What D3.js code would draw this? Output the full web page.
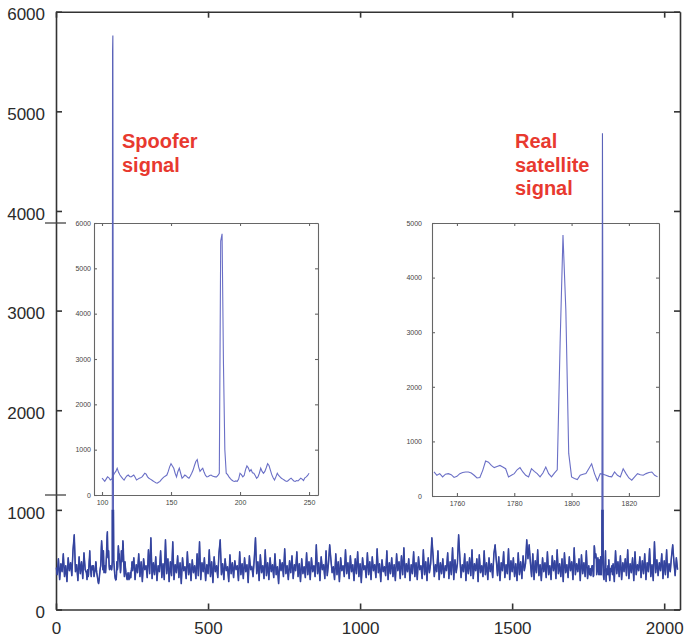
<!DOCTYPE html>
<html lang="en">
<head>
<meta charset="UTF-8">
<title>Spoofer vs real satellite signal</title>
<script src="https://cdn.jsdelivr.net/npm/d3@7"></script>
<style>
  body { margin: 0; background: #fff; }
  text { font-family: "Liberation Sans", Arial, sans-serif; }
  .main-axis text { font-size: 17px; fill: #2b2b2b; }
  .main-axis path, .main-axis line { stroke: #333; stroke-width: 1.6; }
  .inset-axis text { font-size: 7px; fill: #444; }
  .inset-axis path, .inset-axis line { stroke: #666; stroke-width: 1.1; }
  .note { font-size: 20px; font-weight: bold; fill: #e8392f; }
</style>
</head>
<body>
<script>
// correlation output, main plot sampled every 4 bins (noise floor)
const mainStep = 4;
const mainNoise = [
  420,350,510,300,460,380,560,330,440,280,520,390,470,340,600,750,
  380,450,290,530,360,480,310,570,400,330,460,300,520,370,440,310,
  490,350,420,280,540,390,700,330,460,300,510,380,450,320,560,340,
  470,290,430,360,520,310,710,380,440,300,490,350,580,320,460,390,
  520,300,450,370,560,330,480,280,510,400,440,320,600,360,720,310,
  470,350,530,290,440,380,590,320,460,300,700,360,510,280,480,340,
  680,300,450,370,540,320,470,260,520,390,430,310,580,350,460,290,
  500,370,440,310,560,340,680,300,470,380,520,290,450,360,600,330,
  480,270,530,380,440,320,570,700,350,460,300,510,390,430,280,550,
  360,470,320,490,400,440,290,580,350,460,310,520,380,450,270,540,
  400,430,330,510,720,360,480,290,550,370,440,310,600,340,470,300,
  520,380,450,320,560,350,430,260,500,390,470,330,610,360,440,300,
  490,370,540,310,450,390,580,330,460,280,510,360,430,320,570,350,
  480,300,520,380,440,330,650,360,470,290,530,400,450,310,590,340,
  460,650,500,370,430,300,560,350,480,280,520,390,440,330,600,360,
  470,310,540,380,450,290,510,360,580,330,460,270,520,400,440,320,
  570,350,480,300,530,390,450,320,610,370,460,280,500,380,430,340,
  590,300,470,360,520,330,450,290,560,390,480,310,540,350,620,320,
  460,380,510,290,450,360,580,330,470,300,530,400,440,310,600,350,
  480,290,520,370,460,720,540,330,450,380,590,300,470,360,510,320,
  440,390,570,310,480,350,620,300,500,370,460,750,530,320,450,380,
  560,290,480,360,520,340,600,310,460,390,510,280,550,370,440,330,
  590,350,470,300,520,380,460,320,560,650,490,340,530,290,470,390,
  580,320,450,360,610,300,490,380,520,330,460,290,570,350,480,310,
  540,390,460,700,510,650,470,330,560,300,490,370,600,340,450,290,
  520,380,470,320,580,350,440,300,540,390,490,310,600,360,460,330,
  510,280,570,370,450,320,530,390,480,300,620,350,460,380,510,290,
  550,360,470,330,590,310,480,370,520,290,460,400,560,340,680,320,
  500,380,450,300,570,350,490,320,530,390,460,280,590,360,480,330,
  540,300,470,380,510,340,600,310,460,370,520,290,580,350,450,390,
  530,320,490,360,560,300,470,380,610,330,450,290,680,370,500,340,
  470,390,560,310,490,350,600,320,460,380,530,650,480,340,520,400
];

// spoofer region, bins 100..250 (left inset)
const spoofStart = 100;
const spoofVals = [
  370,340,300,350,400,380,330,350,420,480,
  520,590,500,440,400,360,330,380,420,440,
  410,400,420,440,390,330,350,370,380,400,
  440,480,460,400,370,350,330,310,290,270,
  260,280,300,340,370,400,420,440,520,620,
  690,640,590,480,400,520,590,480,370,400,
  440,420,390,370,420,480,550,650,740,780,
  620,520,560,590,500,430,400,410,430,440,
  420,410,400,400,430,480,5600,5760,2900,1000,
  480,450,400,360,330,310,300,310,300,350,
  480,450,400,430,560,640,600,520,560,490,
  480,430,370,400,480,590,520,480,520,600,
  690,650,550,450,380,330,400,480,430,400,
  370,350,330,310,300,320,350,370,340,310,
  300,320,310,340,370,350,320,380,400,430,
  480
];

// real satellite region, bins 1752..1830 (right inset)
const realStart = 1752;
const realVals = [
  440,380,410,350,400,410,390,340,360,
  410,430,440,440,420,380,330,340,470,640,
  620,560,520,540,560,530,500,350,380,410,
  480,520,440,380,350,500,450,410,350,420,
  530,410,350,420,480,2800,4780,3400,780,350,
  320,300,380,400,410,500,590,410,280,410,
  400,380,360,350,440,380,350,500,410,330,
  290,350,410,390,380,410,430,440,380,350
];

const mainXTicks = [0, 500, 1000, 1500, 2000];
const mainYTicks = [0, 1000, 2000, 3000, 4000, 5000, 6000];
const spoofXTicks = [100, 150, 200, 250];
const spoofYTicks = [0, 1000, 2000, 3000, 4000, 5000, 6000];
const realXTicks = [1760, 1780, 1800, 1820];
const realYTicks = [0, 1000, 2000, 3000, 4000, 5000];
const spoofNote = ["Spoofer", "signal"];
const realNote = ["Real", "satellite", "signal"];

const W = 691, H = 640;
const fmt = d3.format("d");
const svg = d3.select("body").append("svg")
  .attr("width", W).attr("height", H)
  .style("background", "#fff");

const spoof = spoofVals.map((v, i) => ({x: spoofStart + i, y: v}));
const real = realVals.map((v, i) => ({x: realStart + i, y: v}));
const covers = (s, x) => x >= s[0].x && x <= s[s.length - 1].x;
const series = mainNoise.map((v, i) => ({x: i * mainStep, y: v}))
  .filter(d => !covers(spoof, d.x) && !covers(real, d.x))
  .concat(spoof, real)
  .sort((a, b) => a.x - b.x);

// main scales
const x = d3.scaleLinear().domain([0, 2052]).range([56, 680]);
const y = d3.scaleLinear().domain([0, 6000]).range([609.5, 11.7]);

// frame with inward ticks on all sides
const gm = svg.append("g").attr("class", "main-axis");
gm.append("g").attr("transform", `translate(0,${y(0)})`)
  .call(d3.axisBottom(x).tickValues(mainXTicks).tickFormat(fmt)
    .tickSize(-6).tickSizeOuter(0).tickPadding(12));
gm.append("g").attr("transform", `translate(0,${y(6000)})`)
  .call(d3.axisTop(x).tickValues(mainXTicks).tickSize(-6).tickSizeOuter(0).tickFormat(""));
gm.append("g").attr("transform", `translate(${x(0)},0)`)
  .call(d3.axisLeft(y).tickValues(mainYTicks).tickFormat(fmt)
    .tickSize(-6).tickSizeOuter(0).tickPadding(11))
  .selectAll("text").attr("dy", "0.48em");
gm.append("g").attr("transform", `translate(${x(2052)},0)`)
  .call(d3.axisRight(y).tickValues(mainYTicks).tickSize(-6).tickSizeOuter(0).tickFormat(""));
gm.selectAll(".domain").attr("fill", "none");

// inset plots
function inset(data, box, xd, yd, xt, yt, lpad) {
  const ix = d3.scaleLinear().domain(xd).range([box.x0, box.x1]);
  const iy = d3.scaleLinear().domain(yd).range([box.y1, box.y0]);
  const g = svg.append("g");
  g.append("rect").attr("x", box.x0).attr("y", box.y0)
    .attr("width", box.x1 - box.x0).attr("height", box.y1 - box.y0)
    .attr("fill", "#fff");
  const ga = g.append("g").attr("class", "inset-axis");
  ga.append("g").attr("transform", `translate(0,${box.y1})`)
    .call(d3.axisBottom(ix).tickValues(xt).tickFormat(fmt)
      .tickSize(-3).tickSizeOuter(0).tickPadding(5));
  ga.append("g").attr("transform", `translate(0,${box.y0})`)
    .call(d3.axisTop(ix).tickValues(xt).tickSize(-3).tickSizeOuter(0).tickFormat(""));
  ga.append("g").attr("transform", `translate(${box.x0},0)`)
    .call(d3.axisLeft(iy).tickValues(yt).tickFormat(fmt)
      .tickSize(-3).tickSizeOuter(0).tickPadding(lpad));
  ga.append("g").attr("transform", `translate(${box.x1},0)`)
    .call(d3.axisRight(iy).tickValues(yt).tickSize(-3).tickSizeOuter(0).tickFormat(""));
  ga.selectAll(".domain").attr("fill", "none");
  g.append("path").datum(data)
    .attr("fill", "none").attr("stroke", "#6a6fc6").attr("stroke-width", 1.1)
    .attr("d", d3.line().x(d => ix(d.x)).y(d => iy(d.y)));
  return g;
}

const boxL = {x0: 94, x1: 318, y0: 223, y1: 495};
const boxR = {x0: 432, x1: 659, y0: 223, y1: 496};
inset(spoof, boxL, [94.2, 256.5], [0, 6000], spoofXTicks, spoofYTicks, 3);
inset(real, boxR, [1751.3, 1830.5], [0, 5000], realXTicks, realYTicks, 10);

// break marks where the left inset edges meet the y axis
svg.append("g").selectAll("line").data([boxL.y0, boxL.y1]).join("line")
  .attr("x1", x(0) - 11).attr("x2", x(0) + 10)
  .attr("y1", d => d).attr("y2", d => d)
  .attr("stroke", "#444").attr("stroke-width", 1.3);

// main trace: thin for the peaks, heavier inside the noise floor band
const line = d3.line().x(d => x(d.x)).y(d => y(d.y));
svg.append("clipPath").attr("id", "floor")
  .append("rect").attr("x", x(0)).attr("y", y(1000))
  .attr("width", x(2052) - x(0)).attr("height", y(0) - y(1000));
svg.append("path").datum(series)
  .attr("fill", "none").attr("stroke", "#5b63b9").attr("stroke-width", 1.1)
  .attr("d", line);
svg.append("path").datum(series)
  .attr("clip-path", "url(#floor)")
  .attr("fill", "none").attr("stroke", "#34449e").attr("stroke-width", 1.5)
  .attr("stroke-linejoin", "round")
  .attr("d", line);

// annotations
function note(lines, px, py) {
  svg.append("text").attr("class", "note").attr("x", px).attr("y", py)
    .selectAll("tspan").data(lines).join("tspan")
    .attr("x", px).attr("dy", (d, i) => i ? 23.5 : 0).text(d => d);
}
note(spoofNote, 122, 148);
note(realNote, 515, 148);
</script>
</body>
</html>
